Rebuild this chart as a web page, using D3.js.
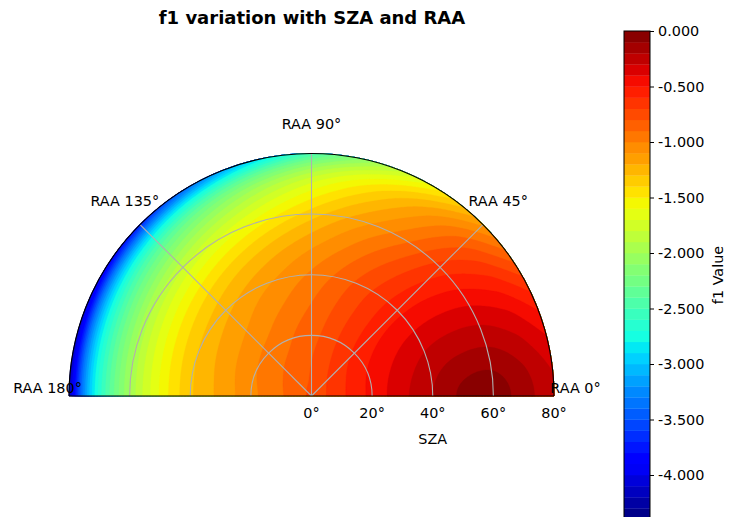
<!DOCTYPE html>
<html><head><meta charset="utf-8">
<script src="https://cdn.jsdelivr.net/npm/d3@7"></script>
<style>
body{margin:0;background:#fff;}
svg{display:block;font-family:"DejaVu Sans",sans-serif;}
</style>
</head><body>
<svg id="chart" width="729" height="517"></svg>
<script>
// ---------------- data ----------------
const SZA = [0, 10, 20, 30, 40, 50, 60, 70, 75, 80];          // solar zenith angle grid (deg)
const RAA = [0, 20, 40, 60, 80, 100, 120, 140, 160, 180];      // relative azimuth grid (deg)
// f1 values for each RAA, listed along SZA
const f1_raa0   = [-0.78, -0.62, -0.47, -0.33, -0.20, -0.08, -0.05, -0.15, -0.22, -0.28];
const f1_raa20  = [-0.78, -0.63, -0.49, -0.38, -0.29, -0.25, -0.26, -0.34, -0.41, -0.49];
const f1_raa40  = [-0.78, -0.66, -0.56, -0.50, -0.48, -0.50, -0.57, -0.71, -0.83, -0.98];
const f1_raa60  = [-0.78, -0.71, -0.67, -0.67, -0.70, -0.79, -0.94, -1.14, -1.31, -1.57];
const f1_raa80  = [-0.78, -0.77, -0.79, -0.83, -0.90, -1.03, -1.22, -1.51, -1.77, -2.18];
const f1_raa100 = [-0.78, -0.82, -0.87, -0.95, -1.05, -1.21, -1.47, -1.86, -2.22, -2.79];
const f1_raa120 = [-0.78, -0.85, -0.94, -1.04, -1.16, -1.36, -1.68, -2.18, -2.63, -3.35];
const f1_raa140 = [-0.78, -0.88, -0.98, -1.11, -1.25, -1.48, -1.85, -2.43, -2.96, -3.81];
const f1_raa160 = [-0.78, -0.90, -1.01, -1.15, -1.30, -1.56, -1.96, -2.60, -3.17, -4.10];
const f1_raa180 = [-0.78, -0.91, -1.03, -1.17, -1.32, -1.59, -2.00, -2.66, -3.25, -4.20];
const f1Rows = [f1_raa0, f1_raa20, f1_raa40, f1_raa60, f1_raa80, f1_raa100, f1_raa120, f1_raa140, f1_raa160, f1_raa180];

const LEVEL_MIN = -4.4, LEVEL_MAX = 0.0, LEVEL_STEP = 0.1;
const cbarTicks = [0.0, -0.5, -1.0, -1.5, -2.0, -2.5, -3.0, -3.5, -4.0];
const szaTicks = [0, 20, 40, 60, 80];
const szaGrid = [20, 40, 60];
const raaTicks = [0, 45, 90, 135, 180];
const raaGrid = [45, 90, 135];
const titleText = "f1 variation with SZA and RAA";
const szaLabel = "SZA";
const cbarLabel = "f1 Value";

// ---------------- helpers ----------------
const levels = d3.range(Math.round((LEVEL_MAX - LEVEL_MIN) / LEVEL_STEP) + 1)
  .map(i => +(LEVEL_MIN + i * LEVEL_STEP).toFixed(4));

function jet(t) {
  const seg = {
    r: [[0,0],[0.35,0],[0.66,1],[0.89,1],[1,0.5]],
    g: [[0,0],[0.125,0],[0.375,1],[0.64,1],[0.91,0],[1,0]],
    b: [[0,0.5],[0.11,1],[0.34,1],[0.65,0],[1,0]]
  };
  let idx = Math.floor(Math.max(0, Math.min(1, t)) * 256);
  if (idx > 255) idx = 255;
  const x = idx / 255;
  const ch = s => {
    for (let i = 0; i < s.length - 1; i++) {
      if (x >= s[i][0] && x <= s[i+1][0]) {
        const u = (x - s[i][0]) / (s[i+1][0] - s[i][0]);
        return s[i][1] + u * (s[i+1][1] - s[i][1]);
      }
    }
    return s[s.length-1][1];
  };
  return d3.rgb(ch(seg.r) * 255, ch(seg.g) * 255, ch(seg.b) * 255).formatHex();
}
const bandColor = (lo, hi) => jet(((lo + hi) / 2 - LEVEL_MIN) / (LEVEL_MAX - LEVEL_MIN));

function hermite(xs, ys, x, symEnds) {
  const n = xs.length;
  let k = 0;
  while (k < n - 2 && x > xs[k + 1]) k++;
  const slope = i => {
    if (i === 0) return symEnds ? 0 : (ys[1] - ys[0]) / (xs[1] - xs[0]);
    if (i === n - 1) return symEnds ? 0 : (ys[n-1] - ys[n-2]) / (xs[n-1] - xs[n-2]);
    return (ys[i+1] - ys[i-1]) / (xs[i+1] - xs[i-1]);
  };
  const x0 = xs[k], x1 = xs[k+1], h = x1 - x0;
  const m0 = slope(k), m1 = slope(k+1);
  const t = (x - x0) / h, t2 = t * t, t3 = t2 * t;
  return (2*t3 - 3*t2 + 1) * ys[k] + (t3 - 2*t2 + t) * h * m0
       + (-2*t3 + 3*t2) * ys[k+1] + (t3 - t2) * h * m1;
}

// ---------------- layout ----------------
const svg = d3.select("#chart");
const cx = 311.5, cy = 396, R = 242.5;
const rScale = d3.scaleLinear().domain([0, 80]).range([0, R]);
const rad = d => d * Math.PI / 180;

// fine rendering grid
const dPhi = 0.5, dS = 0.5;
const nPhi = Math.round(180 / dPhi) + 1, nS = Math.round(80 / dS) + 1;
const rowsFine = f1Rows.map(row => d3.range(nS).map(j => hermite(SZA, row, j * dS, false)));
const values = new Float64Array(nPhi * nS);
for (let j = 0; j < nS; j++) {
  const col = rowsFine.map(r => r[j]);
  for (let i = 0; i < nPhi; i++) values[j * nPhi + i] = hermite(RAA, col, i * dPhi, true);
}

const proj = d3.geoTransform({
  point: function(x, y) {
    const phi = Math.max(0, Math.min(180, (x - 0.5) * dPhi));
    const s = Math.max(0, Math.min(80, (y - 0.5) * dS));
    const r = rScale(s);
    this.stream.point(cx + r * Math.cos(rad(phi)), cy - r * Math.sin(rad(phi)));
  }
});
const path = d3.geoPath(proj);

const contours = d3.contours().size([nPhi, nS]).thresholds(levels.slice(0, -1))(values);
const gPlot = svg.append("g");
gPlot.selectAll("path.band").data(contours).join("path")
  .attr("class", "band")
  .attr("d", path)
  .attr("fill-rule", "evenodd")
  .attr("fill", d => bandColor(d.value, d.value + LEVEL_STEP))
  .attr("stroke", d => bandColor(d.value, d.value + LEVEL_STEP))
  .attr("stroke-width", 0.3);

// grid
const gGrid = svg.append("g").attr("fill", "none").attr("stroke", "#b0b0b0").attr("stroke-width", 1.1);
szaGrid.forEach(s => {
  const p = d3.path();
  p.arc(cx, cy, rScale(s), Math.PI, 2 * Math.PI);
  gGrid.append("path").attr("d", p.toString());
});
raaGrid.forEach(a => {
  gGrid.append("line")
    .attr("x1", cx).attr("y1", cy)
    .attr("x2", cx + R * Math.cos(rad(a))).attr("y2", cy - R * Math.sin(rad(a)));
});

// spines
const spine = d3.path();
spine.arc(cx, cy, R, Math.PI, 2 * Math.PI);
svg.append("path").attr("d", spine.toString()).attr("fill", "none").attr("stroke", "#000").attr("stroke-width", 1.1);
svg.append("line").attr("x1", cx - R).attr("x2", cx + R).attr("y1", cy).attr("y2", cy)
  .attr("stroke", "#000").attr("stroke-width", 1.1);

// theta labels
const fs = 14.4;
raaTicks.forEach(a => {
  svg.append("text")
    .attr("x", cx + 264 * Math.cos(rad(a)))
    .attr("y", cy - 8 - 264 * Math.sin(rad(a)))
    .attr("text-anchor", "middle").attr("dominant-baseline", "central")
    .attr("font-size", fs).attr("fill", "#000")
    .text("RAA " + a + "°");
});

// radial tick labels
szaTicks.forEach(s => {
  svg.append("text")
    .attr("x", cx + rScale(s)).attr("y", 413)
    .attr("text-anchor", "middle").attr("dominant-baseline", "central")
    .attr("font-size", fs).text(s + "°");
});
svg.append("text").attr("x", cx + rScale(40)).attr("y", 439)
  .attr("text-anchor", "middle").attr("dominant-baseline", "central")
  .attr("font-size", fs).text(szaLabel);

// title
svg.append("text").attr("x", 312).attr("y", 17)
  .attr("text-anchor", "middle").attr("dominant-baseline", "central")
  .attr("font-size", 18).attr("font-weight", "bold").text(titleText);

// colorbar
const cbX = 624, cbW = 26;
const cbScale = d3.scaleLinear().domain([LEVEL_MIN, LEVEL_MAX]).range([31 + (LEVEL_MAX - LEVEL_MIN) * 111, 31]);
const gcb = svg.append("g");
const bands = d3.range(levels.length - 1).map(i => [levels[i], levels[i+1]]);
gcb.selectAll("rect").data(bands).join("rect")
  .attr("x", cbX).attr("width", cbW)
  .attr("y", d => cbScale(d[1]))
  .attr("height", d => cbScale(d[0]) - cbScale(d[1]) + 0.3)
  .attr("fill", d => bandColor(d[0], d[1]));
gcb.append("rect").attr("x", cbX).attr("y", cbScale(LEVEL_MAX)).attr("width", cbW)
  .attr("height", cbScale(LEVEL_MIN) - cbScale(LEVEL_MAX))
  .attr("fill", "none").attr("stroke", "#000").attr("stroke-width", 1);
const cbAxis = d3.axisRight(cbScale).tickValues(cbarTicks).tickSize(4).tickPadding(4)
  .tickFormat(d => d3.format(".3f")(d).replace("−", "-"));
const gAx = svg.append("g").attr("transform", `translate(${cbX + cbW},0)`).call(cbAxis);
gAx.select(".domain").remove();
gAx.selectAll("text").attr("font-size", fs).attr("font-family", "DejaVu Sans").attr("fill", "#000");
gAx.selectAll("line").attr("stroke", "#000");
svg.append("text")
  .attr("transform", `translate(718,275) rotate(-90)`)
  .attr("text-anchor", "middle").attr("dominant-baseline", "central")
  .attr("font-size", fs).text(cbarLabel);
</script>
</body></html>
